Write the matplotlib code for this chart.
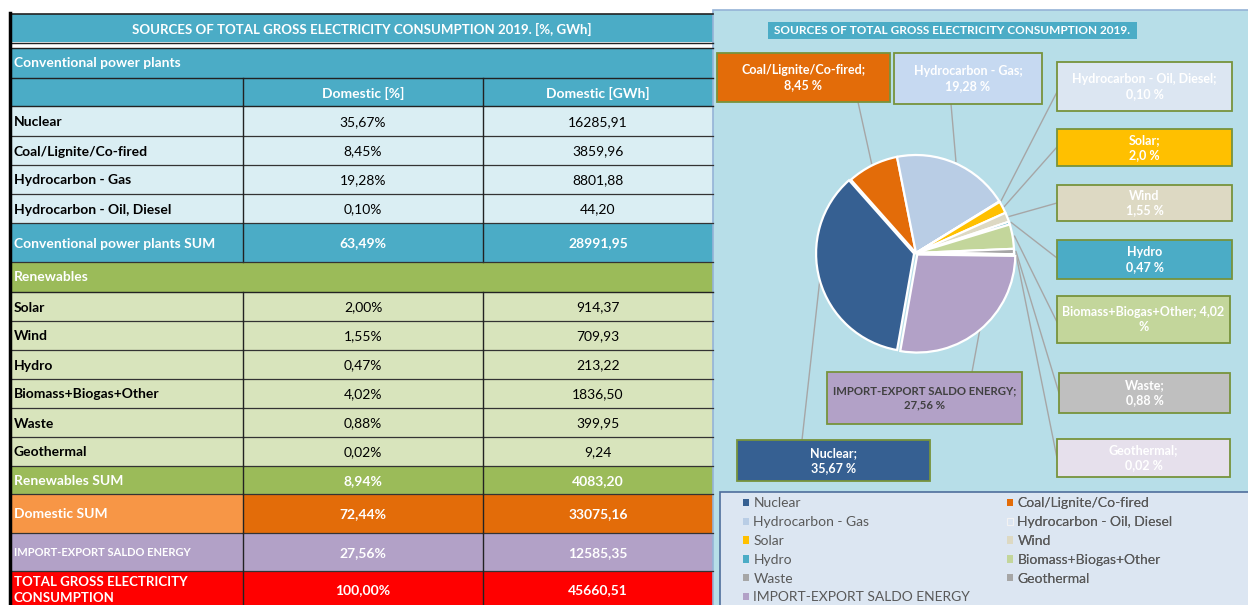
import numpy as np
import matplotlib
matplotlib.use("Agg")
import matplotlib.pyplot as plt
from matplotlib.patches import Rectangle, Patch

plt.rcParams['font.family'] = ['Lato', 'DejaVu Sans']

# ---------------- data ----------------
conv_labels = ["Nuclear", "Coal/Lignite/Co-fired", "Hydrocarbon - Gas", "Hydrocarbon - Oil, Diesel"]
conv_pct = [35.67, 8.45, 19.28, 0.10]
conv_gwh = [16285.91, 3859.96, 8801.88, 44.20]
conv_sum = (63.49, 28991.95)

ren_labels = ["Solar", "Wind", "Hydro", "Biomass+Biogas+Other", "Waste", "Geothermal"]
ren_pct = [2.00, 1.55, 0.47, 4.02, 0.88, 0.02]
ren_gwh = [914.37, 709.93, 213.22, 1836.50, 399.95, 9.24]
ren_sum = (8.94, 4083.20)

domestic_sum = (72.44, 33075.16)
import_label = "IMPORT-EXPORT SALDO ENERGY"
import_vals = (27.56, 12585.35)
total_vals = (100.00, 45660.51)

pie_labels = conv_labels + ren_labels + [import_label]
pie_values = conv_pct + ren_pct + [import_vals[0]]
pie_value_text = ["35,67", "8,45", "19,28", "0,10", "2,0", "1,55", "0,47", "4,02", "0,88", "0,02", "27,56"]
pie_label_sep = [";", ";", ";", ";", ";", "", "", ";", ";", ";", ";"]
pie_colors = ["#366092", "#E36C09", "#B9CDE5", "#DCE6F2", "#FFC000", "#DDD9C3",
              "#4BACC6", "#C3D69B", "#A6A6A6", "#A6A6A6", "#B2A1C7"]
box_colors = ["#366092", "#E36C09", "#C6D9F1", "#DCE6F2", "#FFC000", "#DDD9C3",
              "#4BACC6", "#C3D69B", "#BFBFBF", "#E6E0EC", "#B2A1C7"]


def fnum(v):
    return f"{v:.2f}".replace(".", ",")


W, H = 1248, 605
fig = plt.figure(figsize=(W / 100, H / 100), dpi=100)
fig.patch.set_facecolor("white")
ov = fig.add_axes([0, 0, 1, 1])
ov.set_xlim(0, W)
ov.set_ylim(H, 0)
ov.axis("off")

# ---------------- table ----------------
TX0, TX1, TX2, TX3 = 10, 243, 483, 713
BLUE, LBLUE = "#4BACC6", "#DAEEF3"
GREEN, LGREEN = "#9BBB59", "#D8E4BC"


def rect(x0, y0, x1, y1, fc, ec="none", lw=0, z=1):
    ov.add_patch(Rectangle((x0, y0), x1 - x0, y1 - y0, facecolor=fc, edgecolor=ec, linewidth=lw, zorder=z))


def row(y0, y1, label, pct, gwh, fc, fc_label=None, tc="black", lbold=True, vbold=False, lsize=10, lcolor=None):
    rect(TX0, y0, TX1, y1, fc_label or fc)
    rect(TX1, y0, TX3, y1, fc)
    ym = (y0 + y1) / 2 + 1
    ov.text(TX0 + 4, ym, label, ha="left", va="center", fontsize=lsize,
            fontweight="bold" if lbold else "normal", color=lcolor or tc, zorder=3)
    ov.text((TX1 + TX2) / 2, ym, fnum(pct) + "%", ha="center", va="center", fontsize=10,
            fontweight="bold" if vbold else "normal", color=tc, zorder=3)
    ov.text((TX2 + TX3) / 2, ym, fnum(gwh), ha="center", va="center", fontsize=10,
            fontweight="bold" if vbold else "normal", color=tc, zorder=3)
    for x in (TX1, TX2):
        ov.plot([x, x], [y0, y1], color="#222222", lw=1.0, zorder=4)
    ov.plot([TX0, TX3], [y1, y1], color="#333333", lw=0.9, zorder=4)


# title
rect(TX0, 14, TX3, 42, BLUE)
ov.text((TX0 + TX3) / 2, 29, "SOURCES OF TOTAL GROSS ELECTRICITY CONSUMPTION 2019. [%, GWh]",
        ha="center", va="center", fontsize=9.5, fontweight="bold", color="white", zorder=3)
ov.plot([TX0, TX3], [14, 14], color="#222222", lw=1.2, zorder=4)
ov.plot([TX0, TX3], [42.5, 42.5], color="#222222", lw=1.0, zorder=4)
ov.plot([TX0, TX3], [47.5, 47.5], color="#222222", lw=1.0, zorder=4)
# conventional header
rect(TX0, 48, TX3, 78, BLUE)
ov.text(TX0 + 4, 63, "Conventional power plants", ha="left", va="center", fontsize=10,
        fontweight="bold", color="white", zorder=3)
ov.plot([TX0, TX3], [78, 78], color="#222222", lw=1.0, zorder=4)
# column header
rect(TX0, 78, TX3, 106, BLUE)
ov.text((TX1 + TX2) / 2, 93, "Domestic [%]", ha="center", va="center", fontsize=10,
        fontweight="bold", color="white", zorder=3)
ov.text((TX2 + TX3) / 2, 93, "Domestic [GWh]", ha="center", va="center", fontsize=10,
        fontweight="bold", color="white", zorder=3)
for x in (TX1, TX2):
    ov.plot([x, x], [78, 106], color="#222222", lw=1.0, zorder=4)
ov.plot([TX0, TX3], [106, 106], color="#222222", lw=1.0, zorder=4)

conv_y = [106, 136, 165, 194, 223]
for i, lab in enumerate(conv_labels):
    row(conv_y[i], conv_y[i + 1], lab, conv_pct[i], conv_gwh[i], LBLUE)
row(223, 262, "Conventional power plants SUM", conv_sum[0], conv_sum[1], BLUE, tc="white", vbold=True)

rect(TX0, 262, TX3, 292, GREEN)
ov.text(TX0 + 4, 277, "Renewables", ha="left", va="center", fontsize=10, fontweight="bold",
        color="white", zorder=3)
ov.plot([TX0, TX3], [292, 292], color="#222222", lw=1.0, zorder=4)

ren_y = [292, 321, 350, 379, 408, 437, 466]
for i, lab in enumerate(ren_labels):
    row(ren_y[i], ren_y[i + 1], lab, ren_pct[i], ren_gwh[i], LGREEN)
row(466, 494, "Renewables SUM", ren_sum[0], ren_sum[1], GREEN, tc="white", vbold=True)
row(494, 533, "Domestic SUM", domestic_sum[0], domestic_sum[1], "#E36C09", fc_label="#F79646",
    tc="white", vbold=True)
row(533, 571, import_label, import_vals[0], import_vals[1], "#B2A1C7", tc="white", vbold=True, lsize=8)
# total row (cut off at bottom)
rect(TX0, 571, TX3, 610, "#FF0000")
ov.text(TX0 + 4, 576.5, "TOTAL GROSS ELECTRICITY\nCONSUMPTION", ha="left", va="top", fontsize=9.5,
        fontweight="bold", color="white", zorder=3, linespacing=1.4, clip_on=True)
ov.text((TX1 + TX2) / 2, 590, fnum(total_vals[0]) + "%", ha="center", va="center", fontsize=10,
        fontweight="bold", color="white", zorder=3)
ov.text((TX2 + TX3) / 2, 590, fnum(total_vals[1]), ha="center", va="center", fontsize=10,
        fontweight="bold", color="white", zorder=3)
for x in (TX1, TX2):
    ov.plot([x, x], [571, 610], color="#222222", lw=1.0, zorder=4)
ov.plot([TX0, TX0], [13, 610], color="black", lw=2.5, zorder=5)

# ---------------- pie panel ----------------
rect(713, 10, 1250, 610, "#B7DEE8", ec="#95B3D7", lw=1.2, z=1)
rect(768, 22, 1137, 39, BLUE, z=2)
ov.text(952, 31, "SOURCES OF TOTAL GROSS ELECTRICITY CONSUMPTION 2019.", ha="center", va="center",
        fontsize=8.5, fontweight="bold", color="white", zorder=3)

CX, CY, R = 916, 253, 100
pax = fig.add_axes([(CX - R) / W, (H - CY - R) / H, 2 * R / W, 2 * R / H])
explode = [0.02] + [0.0] * 9 + [0.02]
wedges, _ = pax.pie(pie_values, colors=pie_colors, startangle=260, counterclock=False,
                    explode=explode, radius=0.98,
                    wedgeprops=dict(edgecolor="white", linewidth=1.6))
pax.set_xlim(-1, 1)
pax.set_ylim(-1, 1)
pax.set_aspect("equal")
pax.axis("off")

# label boxes: (x0, y0, x1, y1, attach_x, attach_y)
boxes = [
    (737, 440, 930, 481, 802, 440),      # Nuclear
    (717, 53, 890, 102, 858, 102),       # Coal
    (894, 53, 1042, 104, 951, 104),      # Gas
    (1057, 62, 1232, 111, 1057, 92),     # Oil
    (1057, 129, 1232, 166, 1057, 147),   # Solar
    (1057, 185, 1232, 221, 1057, 203),   # Wind
    (1057, 240, 1232, 279, 1057, 258),   # Hydro
    (1057, 296, 1230, 343, 1057, 322),   # Biomass
    (1059, 373, 1230, 413, 1059, 393),   # Waste
    (1057, 439, 1230, 477, 1057, 458),   # Geothermal
    (827, 372, 1022, 424, 972, 372),     # Import
]
box_text_colors = ["white"] * 10 + ["#404040"]
box_font = [9] * 10 + [8.2]

for i, w in enumerate(wedges):
    x0, y0, x1, y1, ax_, ay_ = boxes[i]
    mid = np.deg2rad((w.theta1 + w.theta2) / 2)
    px = CX + R * np.cos(mid)
    py = CY - R * np.sin(mid)
    ov.plot([ax_, px], [ay_, py], color="#A6A6A6", lw=1.0, zorder=2)
    rect(x0, y0, x1, y1, box_colors[i], ec="#77933C", lw=1.3, z=3)
    lab = pie_labels[i]
    if lab.startswith("Biomass"):
        txt = f"{lab}; {pie_value_text[i]}\n%"
    else:
        txt = f"{lab}{pie_label_sep[i]}\n{pie_value_text[i]} %"
    ov.text((x0 + x1) / 2, (y0 + y1) / 2, txt, ha="center", va="center", fontsize=box_font[i],
            fontweight="bold", color=box_text_colors[i], zorder=4, linespacing=1.3)

# legend
rect(720, 492, 1250, 610, "#DCE6F2", ec="#4F6E9C", lw=1.2, z=2)
handles = [Patch(facecolor=w.get_facecolor(), edgecolor="#F2F2F2" if i == 3 else "none", linewidth=0.8)
           for i, w in enumerate(wedges)]
left_idx = [0, 2, 4, 6, 8, 10]
right_idx = [1, 3, 5, 7, 9]
for idx, xpos in ((left_idx, 736), (right_idx, 1000)):
    leg = ov.legend([handles[j] for j in idx], [pie_labels[j] for j in idx],
                    loc="upper left", bbox_to_anchor=(xpos / W, 1 - 490.5 / H),
                    bbox_transform=fig.transFigure, frameon=False, fontsize=10,
                    handlelength=0.45, handleheight=0.45, handletextpad=0.3,
                    labelspacing=0.49, borderpad=0, labelcolor="#595959")
    leg.set_zorder(5)
    ov.add_artist(leg)

fig.savefig("out.png", dpi=100)
